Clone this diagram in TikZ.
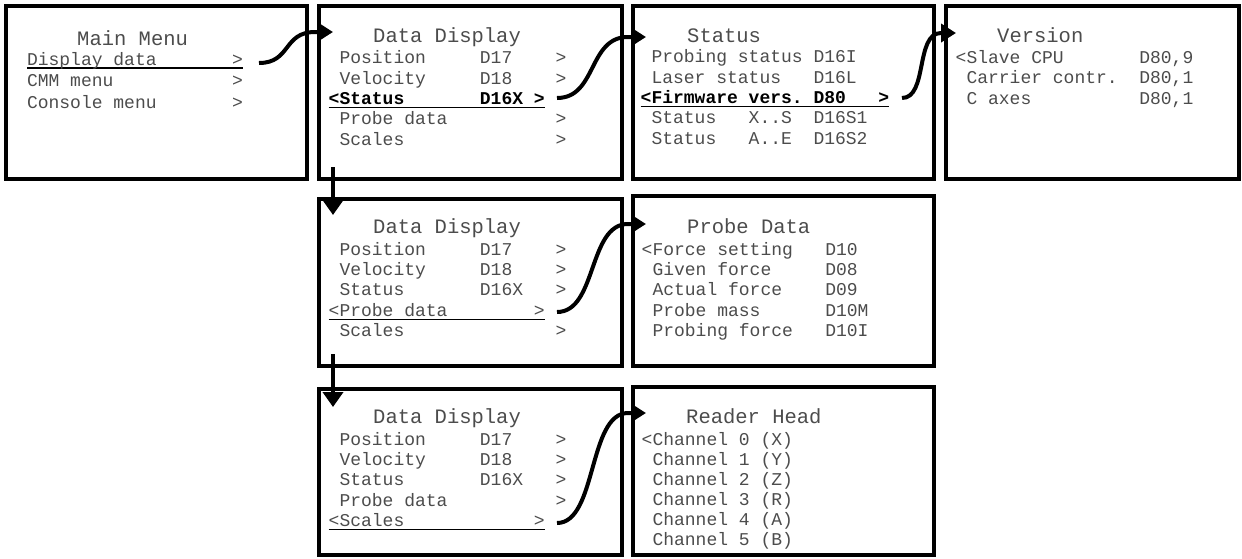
\documentclass[tikz,border=0pt]{standalone}
\usepackage{fontspec}
\setmonofont{Liberation Mono}
\usetikzlibrary{positioning,arrows.meta,calc}

% underline of the selected menu row
\newcommand\menuline[1]{\setbox0\hbox{{#1}}\rlap{\color{black}\rule[-3.6pt]{\wd0}{1.3pt}}\box0}

\begin{document}
\begin{tikzpicture}[x=1pt, y=-1pt,
    screen/.style={draw, line width=4.5pt, inner sep=0pt, outer sep=0pt},
    heading/.style={anchor=base west, inner sep=0pt, text=black!70, font=\ttfamily\fontsize{20.5}{24}\selectfont},
    rows/.style={anchor=base west, inner sep=0pt, align=left, text=black!70, font=\ttfamily\fontsize{18}{20.3}\selectfont},
    link/.style={line width=4pt, -{Triangle[length=15pt,width=18pt]}}]

\useasboundingbox (0,0) rectangle (1242,558);

% Screens
\node[screen, minimum width=301pt, minimum height=173pt] (main)   at (156.5,92.5) {};
\node[screen, minimum width=303pt, minimum height=173pt] (disp)   at (470.5,92.5) {};
\node[screen, minimum width=301pt, minimum height=173pt] (stat)   at (783.5,92.5) {};
\node[screen, minimum width=293pt, minimum height=173pt] (vers)   at (1092.5,92.5) {};
\node[screen, minimum width=303pt, minimum height=167pt] (dispb)  at (470.5,282.5) {};
\node[screen, minimum width=301pt, minimum height=170pt] (probe)  at (783.5,281) {};
\node[screen, minimum width=303pt, minimum height=166pt] (dispc)  at (470.5,472) {};
\node[screen, minimum width=301pt, minimum height=168pt] (reader) at (783.5,471) {};

% Main menu (row nodes sit on the baseline of their last row)
\node[heading] (mainhd) at (77,45) {Main Menu};
\node[rows, font=\ttfamily\fontsize{18}{21.5}\selectfont] (mainrw) at (16,108) {%
~\menuline{Display data~~~~~~~>}\\
~CMM menu~~~~~~~~~~~>\\
~Console menu~~~~~~~>};

% Data display, status selected
\node[heading] (disphd) at (373,42.7) {Data Display};
\node[rows] (disprw) at (328.5,145) {%
~Position~~~~~D17~~~~>\\
~Velocity~~~~~D18~~~~>\\
\menuline{\color{black}\bfseries<Status~~~~~~~D16X~>}\\
~Probe data~~~~~~~~~~>\\
~Scales~~~~~~~~~~~~~~>};

% Status
\node[heading] (stathd) at (687,42) {Status};
\node[rows] (statrw) at (640.5,144) {%
~Probing status~D16I\\
~Laser status~~~D16L\\
\menuline{\color{black}\bfseries<Firmware vers.~D80~~~>}\\
~Status~~~X..S~~D16S1\\
~Status~~~A..E~~D16S2};

% Version
\node[heading] (vershd) at (997,42) {Version};
\node[rows] (versrw) at (955.5,104) {%
<Slave CPU~~~~~~~D80,9\\
~Carrier contr.~~D80,1\\
~C axes~~~~~~~~~~D80,1};

% Data display, probe data selected
\node[heading] (dispbhd) at (373,233) {Data Display};
\node[rows] (dispbrw) at (328.5,336.5) {%
~Position~~~~~D17~~~~>\\
~Velocity~~~~~D18~~~~>\\
~Status~~~~~~~D16X~~~>\\
\menuline{<Probe data~~~~~~~~>}\\
~Scales~~~~~~~~~~~~~~>};

% Probe data
\node[heading] (probehd) at (687,233) {Probe Data};
\node[rows] (proberw) at (641.5,336.5) {%
<Force setting~~~D10\\
~Given force~~~~~D08\\
~Actual force~~~~D09\\
~Probe mass~~~~~~D10M\\
~Probing force~~~D10I};

% Data display, scales selected
\node[heading] (dispchd) at (373,423) {Data Display};
\node[rows] (dispcrw) at (328.5,526.5) {%
~Position~~~~~D17~~~~>\\
~Velocity~~~~~D18~~~~>\\
~Status~~~~~~~D16X~~~>\\
~Probe data~~~~~~~~~~>\\
\menuline{<Scales~~~~~~~~~~~~>}};

% Reader head
\node[heading] (readerhd) at (686,423) {Reader Head};
\node[rows, font=\ttfamily\fontsize{18}{20}\selectfont] (readerrw) at (641.5,545) {%
<Channel~0~(X)\\
~Channel~1~(Y)\\
~Channel~2~(Z)\\
~Channel~3~(R)\\
~Channel~4~(A)\\
~Channel~5~(B)};

% Connectors
\coordinate (selmain)  at (259,63);
\coordinate (seldisp)  at (557,98);
\coordinate (selstat)  at (902,98);
\coordinate (seldispb) at (557,312);
\coordinate (seldispc) at (557,523);

\draw[link] (selmain) .. controls +(32,0) and +(-32,0) .. ($(disp.north west)+(-4,26)$) -- ($(disp.north west)+(14,26)$);
\draw[link] (seldisp) .. controls +(40,0) and +(-40,0) .. ($(stat.north west)+(-5,31)$) -- ($(stat.north west)+(13,31)$);
\draw[link] (selstat) .. controls +(26,0) and +(-26,0) .. ($(vers.north west)+(-5,27)$) -- ($(vers.north west)+(10,27)$);
\draw[link] (seldispb) .. controls +(40,0) and +(-40,0) .. ($(probe.north west)+(-5,28)$) -- ($(probe.north west)+(13,28)$);
\draw[link] (seldispc) .. controls +(40,0) and +(-40,0) .. ($(reader.north west)+(-5,26)$) -- ($(reader.north west)+(13,26)$);

\draw[link, -{Triangle[length=15pt,width=20pt]}] ($(disp.south west)+(14,-12)$) -- ($(dispb.north west)+(14,16)$);
\draw[link, -{Triangle[length=15pt,width=20pt]}] ($(dispb.south west)+(14,-12)$) -- ($(dispc.north west)+(14,18)$);
\end{tikzpicture}
\end{document}
